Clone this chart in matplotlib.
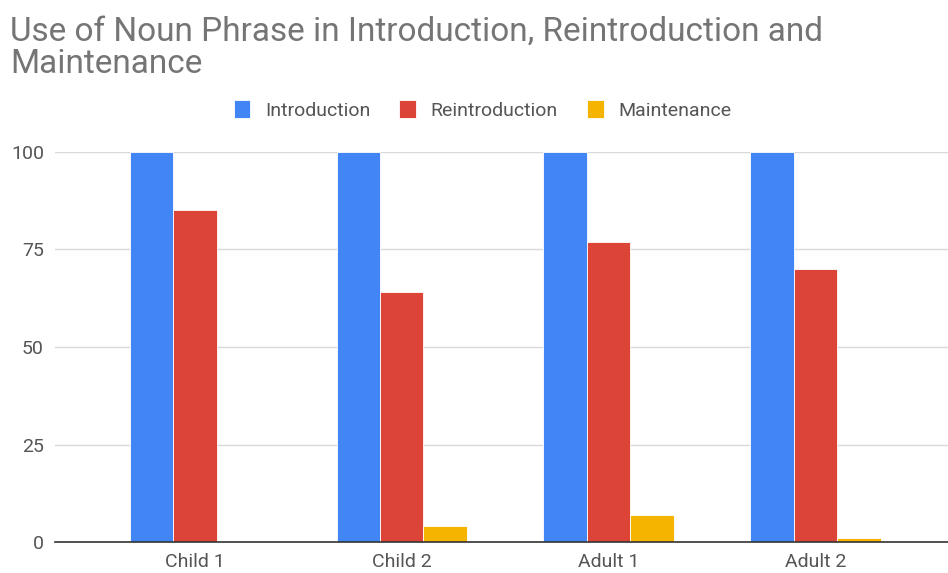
import numpy as np
import matplotlib.pyplot as plt

plt.rcParams['font.family'] = ['Roboto', 'DejaVu Sans']

# Percent of noun phrases per speaker
speakers = ["Child 1", "Child 2", "Adult 1", "Adult 2"]
introduction = [100, 100, 100, 100]
reintroduction = [85, 64, 77, 70]
maintenance = [0, 4, 7, 1]

series = [
    ("Introduction", introduction, "#4285F4"),
    ("Reintroduction", reintroduction, "#DB4437"),
    ("Maintenance", maintenance, "#F4B400"),
]

fig = plt.figure(figsize=(9.48, 5.73), dpi=100)
ax = fig.add_axes([0.058, 0.054, 0.942, 0.681])

x = np.arange(len(speakers))
width = 0.21
for i, (name, vals, color) in enumerate(series):
    ax.bar(x + (i - 1) * width, vals, width, color=color, label=name,
           edgecolor="white", linewidth=0.6, zorder=3)

ax.set_xlim(-0.676, 3.64)
ax.set_ylim(0, 100)
ax.set_yticks([0, 25, 50, 75, 100])
ax.set_xticks(x)
ax.set_xticklabels(speakers)
ax.grid(axis="y", color="#d9d9d9", linewidth=1, zorder=0)
for side in ["top", "right", "left"]:
    ax.spines[side].set_visible(False)
ax.spines["bottom"].set_color("#333333")
ax.spines["bottom"].set_linewidth(1.2)
ax.spines["bottom"].set_zorder(4)
ax.tick_params(axis="both", length=0, labelsize=14, labelcolor="#555555")
ax.tick_params(axis="x", pad=8)
ax.tick_params(axis="y", pad=8)

fig.text(0.011, 0.972, "Use of Noun Phrase in Introduction, Reintroduction and\nMaintenance",
         ha="left", va="top", fontsize=24, color="#757575", linespacing=1.0)

handles, labels = ax.get_legend_handles_labels()
fig.legend(handles, labels, loc="center", bbox_to_anchor=(0.509, 0.808), ncol=3,
           frameon=False, fontsize=14, handlelength=0.85, handleheight=1.0,
           handletextpad=0.75, columnspacing=1.5, labelcolor="#555555")

fig.savefig("out.png", dpi=100)
